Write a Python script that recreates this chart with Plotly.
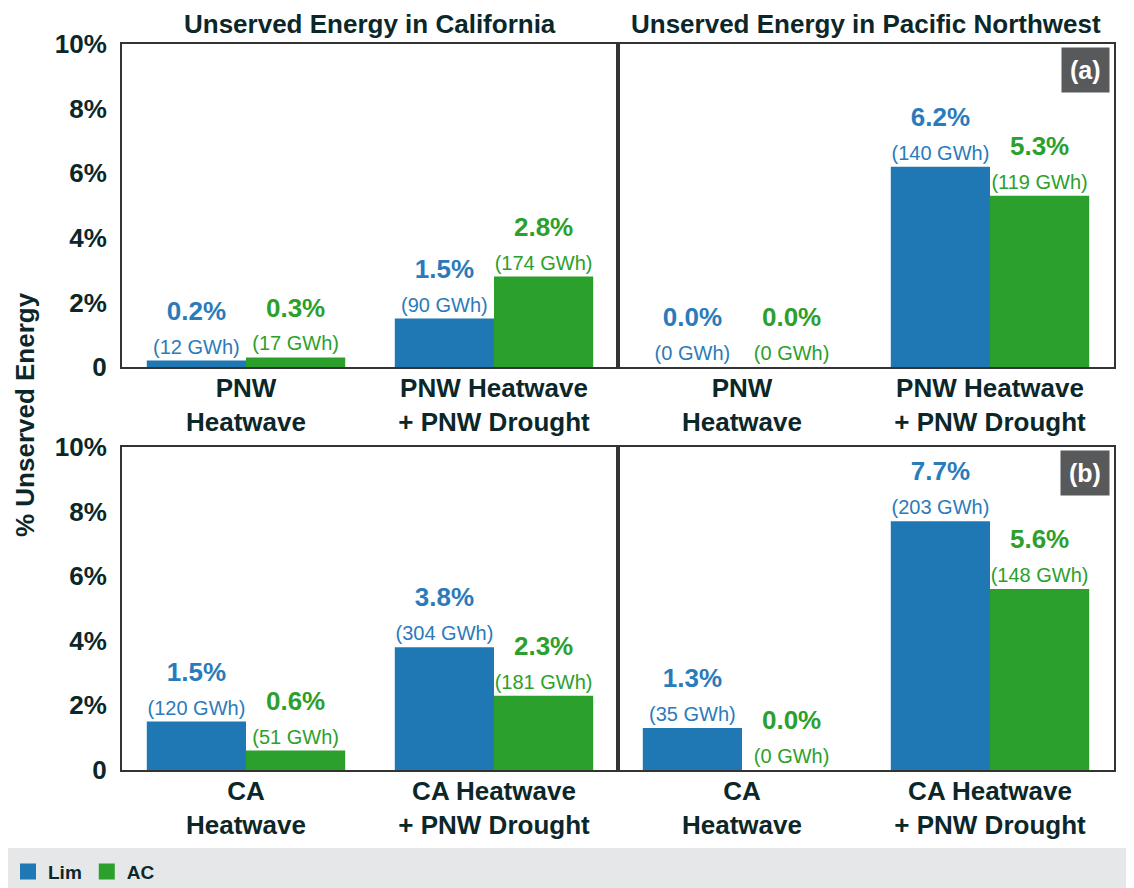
import plotly.graph_objects as go
from plotly.subplots import make_subplots

# categories
pnw_cats = ["PNW<br>Heatwave", "PNW Heatwave<br>+ PNW Drought"]
ca_cats = ["CA<br>Heatwave", "CA Heatwave<br>+ PNW Drought"]

# % unserved energy (row a: PNW scenarios, row b: CA scenarios)
ca_a_lim = [0.2, 1.5]
ca_a_ac = [0.3, 2.8]
pnw_a_lim = [0.0, 6.2]
pnw_a_ac = [0.0, 5.3]
ca_b_lim = [1.5, 3.8]
ca_b_ac = [0.6, 2.3]
pnw_b_lim = [1.3, 7.7]
pnw_b_ac = [0.0, 5.6]

# unserved energy, GWh
ca_a_lim_gwh = [12, 90]
ca_a_ac_gwh = [17, 174]
pnw_a_lim_gwh = [0, 140]
pnw_a_ac_gwh = [0, 119]
ca_b_lim_gwh = [120, 304]
ca_b_ac_gwh = [51, 181]
pnw_b_lim_gwh = [35, 203]
pnw_b_ac_gwh = [0, 148]

y_ticks = [0, 2, 4, 6, 8, 10]
y_ticktext = ["0", "2%", "4%", "6%", "8%", "10%"]

BLUE = "#1f77b4"
GREEN = "#2ca02c"
BLUE_TXT = "#2b7bba"
DARK = "#0c2729"
FONT = "Liberation Sans, Arial, sans-serif"


def labels(vals, gwh):
    return [f"<b>{v:.1f}%</b><br><span style='font-size:20px'>({g} GWh)</span>"
            for v, g in zip(vals, gwh)]


fig = make_subplots(rows=2, cols=2, horizontal_spacing=0, vertical_spacing=0.11)

panels = [
    (1, 1, pnw_cats, ca_a_lim, ca_a_ac, ca_a_lim_gwh, ca_a_ac_gwh),
    (1, 2, pnw_cats, pnw_a_lim, pnw_a_ac, pnw_a_lim_gwh, pnw_a_ac_gwh),
    (2, 1, ca_cats, ca_b_lim, ca_b_ac, ca_b_lim_gwh, ca_b_ac_gwh),
    (2, 2, ca_cats, pnw_b_lim, pnw_b_ac, pnw_b_lim_gwh, pnw_b_ac_gwh),
]

for r, c, cats, lim, ac, lim_g, ac_g in panels:
    fig.add_trace(go.Bar(x=cats, y=lim, name="Lim", marker=dict(color=BLUE, line=dict(width=0)),
                         text=labels(lim, lim_g), textposition="outside", constraintext="none",
                         textfont=dict(size=26, color=BLUE_TXT, family=FONT), cliponaxis=False,
                         showlegend=False), row=r, col=c)
    fig.add_trace(go.Bar(x=cats, y=ac, name="AC", marker=dict(color=GREEN, line=dict(width=0)),
                         text=labels(ac, ac_g), textposition="outside", constraintext="none",
                         textfont=dict(size=26, color=GREEN, family=FONT), cliponaxis=False,
                         showlegend=False), row=r, col=c)

# legend entries with bigger square symbols
fig.add_trace(go.Scatter(x=[None], y=[None], mode="markers", name="Lim",
                         marker=dict(symbol="square", size=16, color=BLUE)))
fig.add_trace(go.Scatter(x=[None], y=[None], mode="markers", name="AC",
                         marker=dict(symbol="square", size=16, color=GREEN)))

fig.update_xaxes(showline=True, mirror=True, linecolor="#333333", linewidth=2, ticks="",
                 ticklabelstandoff=-3,
                 tickfont=dict(size=26, color=DARK, family=FONT, weight="bold"), showgrid=False)
fig.update_yaxes(range=[0, 10], tickvals=y_ticks, ticktext=y_ticktext, showline=True, mirror=True,
                 linecolor="#333333", linewidth=2, showgrid=False, zeroline=False, ticks="",
                 ticklabelstandoff=8, tickfont=dict(size=26, color=DARK, family=FONT, weight="bold"))
fig.update_yaxes(showticklabels=False, col=2)

annotations = [
    dict(text="<b>Unserved Energy in California</b>", xref="x domain", yref="y domain", x=0.5, y=1,
         yanchor="bottom", yshift=3, showarrow=False, font=dict(size=26, color=DARK, family=FONT)),
    dict(text="<b>Unserved Energy in Pacific Northwest</b>", xref="x2 domain", yref="y2 domain", x=0.5, y=1,
         yanchor="bottom", yshift=3, showarrow=False, font=dict(size=26, color=DARK, family=FONT)),
    dict(text="<b>(a)</b>", xref="x2 domain", yref="y2 domain", x=1, y=1, xanchor="right", yanchor="top",
         xshift=-4, yshift=-3, showarrow=False, bgcolor="#58595b", borderpad=8,
         font=dict(size=25, color="white", family=FONT)),
    dict(text="<b>(b)</b>", xref="x4 domain", yref="y4 domain", x=1, y=1, xanchor="right", yanchor="top",
         xshift=-4, yshift=-3, showarrow=False, bgcolor="#58595b", borderpad=8,
         font=dict(size=25, color="white", family=FONT)),
    dict(text="<b>% Unserved Energy</b>", xref="paper", yref="paper", x=-0.098, y=0.49, xanchor="center",
         yanchor="middle", textangle=-90, showarrow=False, font=dict(size=26, color=DARK, family=FONT)),
]

# page body adds an 8px offset, margins compensate for it
fig.update_layout(
    width=1134, height=888,
    margin=dict(l=114, r=28, t=36, b=126),
    paper_bgcolor="white", plot_bgcolor="white",
    barmode="group", bargap=0.2, bargroupgap=0,
    font=dict(family=FONT, color=DARK),
    annotations=annotations,
    shapes=[dict(type="rect", xref="paper", yref="paper", x0=-0.2, x1=1.1, y0=-0.2, y1=-0.1074,
                 fillcolor="#e6e7e9", line=dict(width=0), layer="below")],
    legend=dict(orientation="h", xref="container", yref="container", x=0, y=0.006,
                xanchor="left", yanchor="bottom", bgcolor="rgba(0,0,0,0)",
                font=dict(size=19, color=DARK, family=FONT, weight="bold"), itemwidth=30, tracegroupgap=0),
)

fig.write_html("out.html")
